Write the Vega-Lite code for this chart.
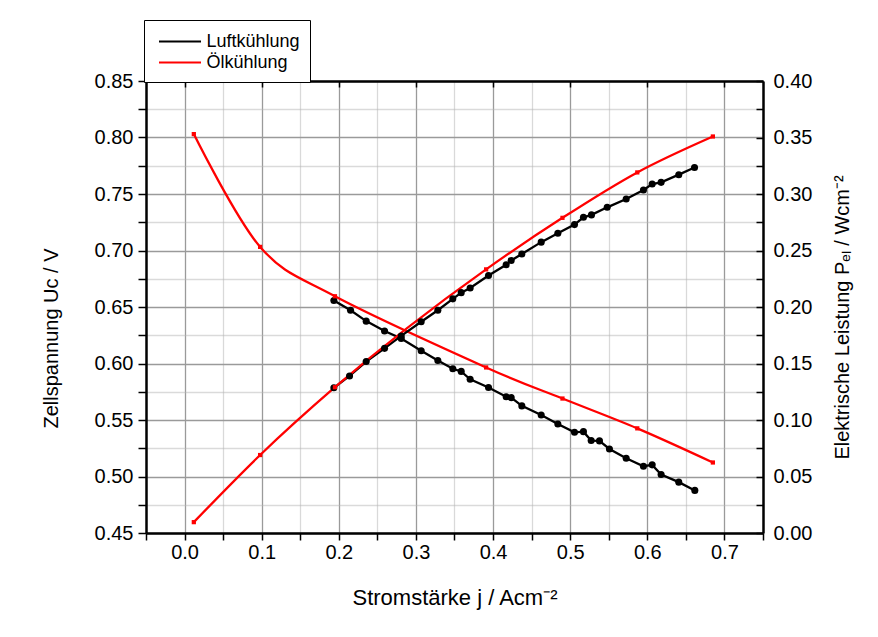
{
  "$schema": "https://vega.github.io/schema/vega-lite/v6.json",
  "width": 617,
  "height": 452,
  "autosize": {"type": "none"},
  "padding": {"left": 146, "top": 81, "right": 115, "bottom": 104},
  "background": "white",
  "config": {"view": {"stroke": null}, "font": "Liberation Sans"},
  "datasets": {
    "volt": [
      {"series": "Luftkühlung", "j": 0.1936, "U": 0.6558},
      {"series": "Luftkühlung", "j": 0.2152, "U": 0.6471},
      {"series": "Luftkühlung", "j": 0.2355, "U": 0.6375},
      {"series": "Luftkühlung", "j": 0.2593, "U": 0.6288},
      {"series": "Luftkühlung", "j": 0.2809, "U": 0.6221},
      {"series": "Luftkühlung", "j": 0.3068, "U": 0.6113},
      {"series": "Luftkühlung", "j": 0.3284, "U": 0.6026},
      {"series": "Luftkühlung", "j": 0.3478, "U": 0.5953},
      {"series": "Luftkühlung", "j": 0.3587, "U": 0.593},
      {"series": "Luftkühlung", "j": 0.3703, "U": 0.586},
      {"series": "Luftkühlung", "j": 0.3941, "U": 0.5788},
      {"series": "Luftkühlung", "j": 0.417, "U": 0.5706},
      {"series": "Luftkühlung", "j": 0.4235, "U": 0.5698},
      {"series": "Luftkühlung", "j": 0.4373, "U": 0.5625},
      {"series": "Luftkühlung", "j": 0.4624, "U": 0.5544},
      {"series": "Luftkühlung", "j": 0.484, "U": 0.5465},
      {"series": "Luftkühlung", "j": 0.5056, "U": 0.5391},
      {"series": "Luftkühlung", "j": 0.5172, "U": 0.5397},
      {"series": "Luftkühlung", "j": 0.5272, "U": 0.5318},
      {"series": "Luftkühlung", "j": 0.538, "U": 0.5315},
      {"series": "Luftkühlung", "j": 0.5509, "U": 0.5244},
      {"series": "Luftkühlung", "j": 0.5726, "U": 0.5162},
      {"series": "Luftkühlung", "j": 0.595, "U": 0.5091},
      {"series": "Luftkühlung", "j": 0.6063, "U": 0.5103},
      {"series": "Luftkühlung", "j": 0.6179, "U": 0.5018},
      {"series": "Luftkühlung", "j": 0.6408, "U": 0.495},
      {"series": "Luftkühlung", "j": 0.6616, "U": 0.4877},
      {"series": "Ölkühlung", "j": 0.012, "U": 0.803},
      {"series": "Ölkühlung", "j": 0.098, "U": 0.7032},
      {"series": "Ölkühlung", "j": 0.195, "U": 0.6595},
      {"series": "Ölkühlung", "j": 0.391, "U": 0.5965},
      {"series": "Ölkühlung", "j": 0.49, "U": 0.569},
      {"series": "Ölkühlung", "j": 0.587, "U": 0.5426},
      {"series": "Ölkühlung", "j": 0.685, "U": 0.5124}
    ],
    "power": [
      {"series": "Luftkühlung", "j": 0.1936, "P": 0.1285},
      {"series": "Luftkühlung", "j": 0.2139, "P": 0.139},
      {"series": "Luftkühlung", "j": 0.2355, "P": 0.1517},
      {"series": "Luftkühlung", "j": 0.2593, "P": 0.1634},
      {"series": "Luftkühlung", "j": 0.2809, "P": 0.1744},
      {"series": "Luftkühlung", "j": 0.3068, "P": 0.1869},
      {"series": "Luftkühlung", "j": 0.3284, "P": 0.1971},
      {"series": "Luftkühlung", "j": 0.3478, "P": 0.2072},
      {"series": "Luftkühlung", "j": 0.3587, "P": 0.2127},
      {"series": "Luftkühlung", "j": 0.3703, "P": 0.2168},
      {"series": "Luftkühlung", "j": 0.3941, "P": 0.2279},
      {"series": "Luftkühlung", "j": 0.417, "P": 0.2374},
      {"series": "Luftkühlung", "j": 0.4235, "P": 0.2412},
      {"series": "Luftkühlung", "j": 0.4373, "P": 0.2469},
      {"series": "Luftkühlung", "j": 0.4624, "P": 0.2574},
      {"series": "Luftkühlung", "j": 0.484, "P": 0.2653},
      {"series": "Luftkühlung", "j": 0.5056, "P": 0.2729},
      {"series": "Luftkühlung", "j": 0.5172, "P": 0.2794},
      {"series": "Luftkühlung", "j": 0.5276, "P": 0.2815},
      {"series": "Luftkühlung", "j": 0.548, "P": 0.2882},
      {"series": "Luftkühlung", "j": 0.5726, "P": 0.2956},
      {"series": "Luftkühlung", "j": 0.595, "P": 0.3035},
      {"series": "Luftkühlung", "j": 0.6063, "P": 0.3088},
      {"series": "Luftkühlung", "j": 0.6179, "P": 0.3103},
      {"series": "Luftkühlung", "j": 0.6408, "P": 0.3171},
      {"series": "Luftkühlung", "j": 0.6612, "P": 0.3235},
      {"series": "Ölkühlung", "j": 0.012, "P": 0.0096},
      {"series": "Ölkühlung", "j": 0.098, "P": 0.069},
      {"series": "Ölkühlung", "j": 0.195, "P": 0.129},
      {"series": "Ölkühlung", "j": 0.391, "P": 0.2333},
      {"series": "Ölkühlung", "j": 0.49, "P": 0.2789},
      {"series": "Ölkühlung", "j": 0.587, "P": 0.3191},
      {"series": "Ölkühlung", "j": 0.685, "P": 0.3509}
    ]
  },
  "layer": [
    {
      "data": {"name": "volt"},
      "encoding": {
        "x": {
          "field": "j",
          "type": "quantitative",
          "scale": {"domain": [-0.05, 0.75], "nice": false, "zero": false},
          "axis": {
            "orient": "bottom",
            "values": [-0.05, 0, 0.05, 0.1, 0.15, 0.2, 0.25, 0.3, 0.35, 0.4, 0.45, 0.5, 0.55, 0.6, 0.65, 0.7, 0.75],
            "format": ".1f",
            "labelExpr": "(datum.value > -0.01 && datum.value < 0.71 && abs(round(datum.value*20)) % 2 == 0) ? datum.label : ''",
            "labelOverlap": false,
            "labelFlush": false,
            "grid": true,
            "gridColor": {"condition": {"test": "abs(round(datum.value*20)) % 2 == 0", "value": "#9a9a9a"}, "value": "#b4b4b4"},
            "gridDash": {"condition": {"test": "abs(round(datum.value*20)) % 2 == 0", "value": []}, "value": [1, 1]},
            "gridWidth": 1.3,
            "tickColor": "black",
            "tickSize": 7,
            "tickWidth": 1.5,
            "domainColor": "black",
            "domainWidth": 2.5,
            "labelFont": "Liberation Sans",
            "labelFontSize": 20,
            "labelColor": "black",
            "labelPadding": 2,
            "title": "Stromstärke j / Acm⁻²",
            "titleFont": "Liberation Sans",
            "titleFontSize": 22,
            "titleFontWeight": "normal",
            "titleColor": "black",
            "titlePadding": 25
          }
        },
        "y": {
          "field": "U",
          "type": "quantitative",
          "scale": {"domain": [0.45, 0.85], "nice": false, "zero": false},
          "axis": {
            "orient": "left",
            "values": [0.45, 0.475, 0.5, 0.525, 0.55, 0.575, 0.6, 0.625, 0.65, 0.675, 0.7, 0.725, 0.75, 0.775, 0.8, 0.825, 0.85],
            "format": ".2f",
            "labelExpr": "abs(round(datum.value*40)) % 2 == 0 ? datum.label : ''",
            "labelOverlap": false,
            "labelFlush": false,
            "grid": true,
            "gridColor": {"condition": {"test": "abs(round(datum.value*40)) % 2 == 0", "value": "#9a9a9a"}, "value": "#b4b4b4"},
            "gridDash": {"condition": {"test": "abs(round(datum.value*40)) % 2 == 0", "value": []}, "value": [1, 1]},
            "gridWidth": 1.3,
            "tickColor": "black",
            "tickSize": 8,
            "tickWidth": 1.5,
            "domainColor": "black",
            "domainWidth": 2.5,
            "labelFont": "Liberation Sans",
            "labelFontSize": 20,
            "labelColor": "black",
            "labelPadding": 5,
            "title": "Zellspannung Uc / V",
            "titleFont": "Liberation Sans",
            "titleFontSize": 20,
            "titleFontWeight": "normal",
            "titleColor": "black",
            "titlePadding": 33,
            "titleY": 257
          }
        },
        "color": {
          "field": "series",
          "type": "nominal",
          "scale": {"domain": ["Luftkühlung", "Ölkühlung"], "range": ["#000000", "#ff0000"]},
          "legend": {
            "title": null,
            "orient": "none",
            "legendX": -2,
            "legendY": -61,
            "symbolType": "M-2,0H2",
            "symbolSize": 441,
            "symbolOffset": 14.5,
            "symbolStrokeWidth": 2,
            "labelFont": "Liberation Sans",
            "labelFontSize": 18,
            "labelColor": "black",
            "labelOffset": 15,
            "strokeColor": "black",
            "fillColor": "white",
            "padding": 10,
            "rowPadding": 0
          }
        }
      },
      "layer": [
        {"transform": [{"filter": "datum.series == 'Luftkühlung'"}], "mark": {"type": "line", "strokeWidth": 2.3}},
        {"transform": [{"filter": "datum.series == 'Ölkühlung'"}], "mark": {"type": "line", "interpolate": "cardinal", "strokeWidth": 2.3}},
        {"transform": [{"filter": "datum.series == 'Luftkühlung'"}], "mark": {"type": "circle", "size": 50, "opacity": 1}},
        {"transform": [{"filter": "datum.series == 'Ölkühlung'"}], "mark": {"type": "square", "size": 18, "opacity": 1}}
      ]
    },
    {
      "data": {"name": "power"},
      "encoding": {
        "x": {
          "field": "j",
          "type": "quantitative",
          "scale": {"domain": [-0.05, 0.75], "nice": false, "zero": false},
          "axis": {
            "orient": "top",
            "values": [0, 0.1, 0.2, 0.3, 0.4, 0.5, 0.6, 0.7],
            "labels": false,
            "grid": false,
            "tickColor": "black",
            "tickSize": -6,
            "tickWidth": 1.5,
            "domainColor": "black",
            "domainWidth": 2.5,
            "title": null
          }
        },
        "y": {
          "field": "P",
          "type": "quantitative",
          "scale": {"domain": [0, 0.4], "nice": false, "zero": false},
          "axis": {
            "orient": "right",
            "values": [0, 0.025, 0.05, 0.075, 0.1, 0.125, 0.15, 0.175, 0.2, 0.225, 0.25, 0.275, 0.3, 0.325, 0.35, 0.375, 0.4],
            "format": ".2f",
            "labelExpr": "abs(round(datum.value*40)) % 2 == 0 ? datum.label : ''",
            "labelOverlap": false,
            "labelFlush": false,
            "grid": false,
            "tickColor": "black",
            "tickSize": -7,
            "tickWidth": 1.5,
            "domainColor": "black",
            "domainWidth": 2.5,
            "labelFont": "Liberation Sans",
            "labelFontSize": 20,
            "labelColor": "black",
            "labelPadding": 17,
            "title": "Elektrische Leistung Pₑₗ / Wcm⁻²",
            "titleAngle": 270,
            "titleFont": "Liberation Sans",
            "titleFontSize": 20,
            "titleFontWeight": "normal",
            "titleColor": "black",
            "titlePadding": 41,
            "titleY": 236
          }
        },
        "color": {
          "field": "series",
          "type": "nominal",
          "scale": {"domain": ["Luftkühlung", "Ölkühlung"], "range": ["#000000", "#ff0000"]},
          "legend": {
            "title": null,
            "orient": "none",
            "legendX": -2,
            "legendY": -61,
            "symbolType": "M-2,0H2",
            "symbolSize": 441,
            "symbolOffset": 14.5,
            "symbolStrokeWidth": 2,
            "labelFont": "Liberation Sans",
            "labelFontSize": 18,
            "labelColor": "black",
            "labelOffset": 15,
            "strokeColor": "black",
            "fillColor": "white",
            "padding": 10,
            "rowPadding": 0
          }
        }
      },
      "layer": [
        {"transform": [{"filter": "datum.series == 'Luftkühlung'"}], "mark": {"type": "line", "strokeWidth": 2.3}},
        {"transform": [{"filter": "datum.series == 'Ölkühlung'"}], "mark": {"type": "line", "interpolate": "monotone", "strokeWidth": 2.3}},
        {"transform": [{"filter": "datum.series == 'Luftkühlung'"}], "mark": {"type": "circle", "size": 50, "opacity": 1}},
        {"transform": [{"filter": "datum.series == 'Ölkühlung'"}], "mark": {"type": "square", "size": 18, "opacity": 1}}
      ]
    }
  ],
  "resolve": {"scale": {"y": "independent"}, "axis": {"x": "independent", "y": "independent"}}
}
